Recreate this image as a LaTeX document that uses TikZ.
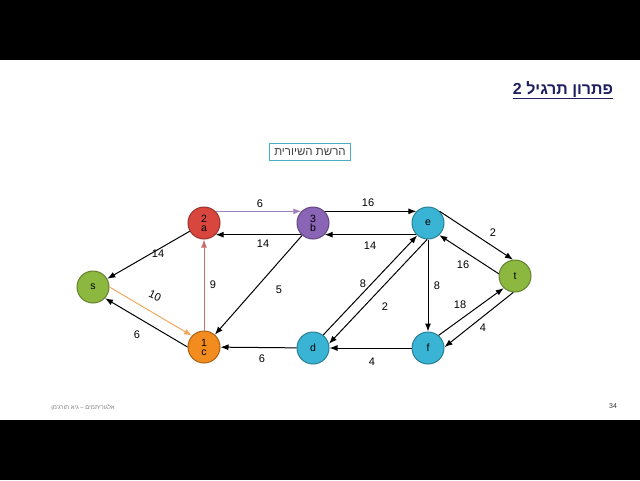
\documentclass[tikz,border=0pt]{standalone}
\usepackage{fontspec}
\setmainfont{Liberation Sans}
\newfontfamily\hebfont[Script=Hebrew]{Liberation Sans}
\TeXXeTstate=1
\usetikzlibrary{arrows,arrows.meta,shapes}

\definecolor{vgreen}{RGB}{141,184,64}
\definecolor{vred}{RGB}{217,70,62}
\definecolor{vpurple}{RGB}{138,100,181}
\definecolor{vcyan}{RGB}{58,180,212}
\definecolor{vorange}{RGB}{242,140,30}
\definecolor{titleblue}{RGB}{31,31,95}
\definecolor{boxteal}{RGB}{75,172,198}
\definecolor{abline}{RGB}{160,130,195}
\definecolor{caline}{RGB}{200,112,112}
\definecolor{scline}{RGB}{240,168,96}

\begin{document}
\begin{tikzpicture}[x=1pt, y=-1pt, >={Latex[length=8pt,width=6pt]}, line width=1pt,
  vertex/.style={circle, minimum size=32pt, inner sep=0pt, align=center,
    font=\fontsize{10.5}{9}\selectfont},
  lbl/.style={font=\fontsize{11}{11}\selectfont}]
  \useasboundingbox (0,0) rectangle (640,480);
  \fill[black] (0,0) rectangle (640,60);
  \fill[black] (0,420) rectangle (640,480);

  % title and box
  \node[font=\hebfont\fontsize{16}{16}\selectfont\bfseries, text=titleblue] (title) at (563,90)
    {\underline{\beginR פתרון תרגיל 2\endR}};
  \node[draw=boxteal, line width=1.2pt, inner sep=5pt, text=black!75,
    font=\hebfont\fontsize{11.5}{11.5}\selectfont] (res) at (310,152) {\beginR הרשת השיורית\endR};

  % vertices
  \node[vertex, fill=vgreen, draw=vgreen!70!black] (s) at (93,287) {s};
  \node[vertex, fill=vred, draw=vred!70!black] (a) at (204,223) {2\\a};
  \node[vertex, fill=vpurple, draw=vpurple!70!black] (b) at (313,223) {3\\b};
  \node[vertex, fill=vcyan, draw=vcyan!70!black] (e) at (428,223) {e};
  \node[vertex, fill=vgreen, draw=vgreen!70!black] (t) at (515,276) {t};
  \node[vertex, fill=vorange, draw=vorange!70!black] (c) at (204,347) {1\\c};
  \node[vertex, fill=vcyan, draw=vcyan!70!black] (d) at (313,348) {d};
  \node[vertex, fill=vcyan, draw=vcyan!70!black] (f) at (428,348) {f};

  % residual edges
  \draw[->] (a) -- (s);
  \draw[->, abline] (a.45) -- (b.135);
  \draw[->] (b.-135) -- (a.-45);
  \draw[->] (b.45) -- (e.135);
  \draw[->] (e.-135) -- (b.-45);
  \draw[->] (e.45) -- (t.97);
  \draw[->] (t.172) -- (e.-47);
  \draw[->] (e) -- (f);
  \draw[->] (d.52) -- (e.229);
  \draw[->] (e.267) -- (d.15);
  \draw[->] (f.50) -- (t.227);
  \draw[->] (t.264) -- (f.3);
  \draw[->] (f) -- (d);
  \draw[->] (d) -- (c);
  \draw[->] (b) -- (c);
  \draw[->, caline] (c) -- (a);
  \draw[->, scline] (s.0) -- (c.137);
  \draw[->] (c.180) -- (s.-43);

  % capacities
  \node[lbl] (l-as) at (158,254) {14};
  \node[lbl] (l-ab) at (260,204) {6};
  \node[lbl] (l-ba) at (263,244) {14};
  \node[lbl] (l-be) at (368,203) {16};
  \node[lbl] (l-eb) at (370,246) {14};
  \node[lbl] (l-et) at (493,233) {2};
  \node[lbl] (l-te) at (463,265) {16};
  \node[lbl] (l-ef) at (437,286) {8};
  \node[lbl] (l-de) at (363,284) {8};
  \node[lbl] (l-ed) at (385,307) {2};
  \node[lbl] (l-ft) at (460,305) {18};
  \node[lbl] (l-tf) at (483,328) {4};
  \node[lbl] (l-fd) at (372,362) {4};
  \node[lbl] (l-dc) at (262,359) {6};
  \node[lbl] (l-bc) at (279,290) {5};
  \node[lbl] (l-ca) at (213,285) {9};
  \node[lbl, rotate=-25, inner sep=1pt] (l-sc) at (155,296) {10};
  \node[lbl] (l-cs) at (137,335) {6};

  % footer
  \node[font=\hebfont\fontsize{6}{6}\selectfont, text=black!50] (foot) at (83,408)
    {\beginR אלגוריתמים – גיא תורג'מן\endR};
  \node[font=\fontsize{7}{7}\selectfont, text=black!80] (page) at (613,406) {34};
\end{tikzpicture}
\end{document}
